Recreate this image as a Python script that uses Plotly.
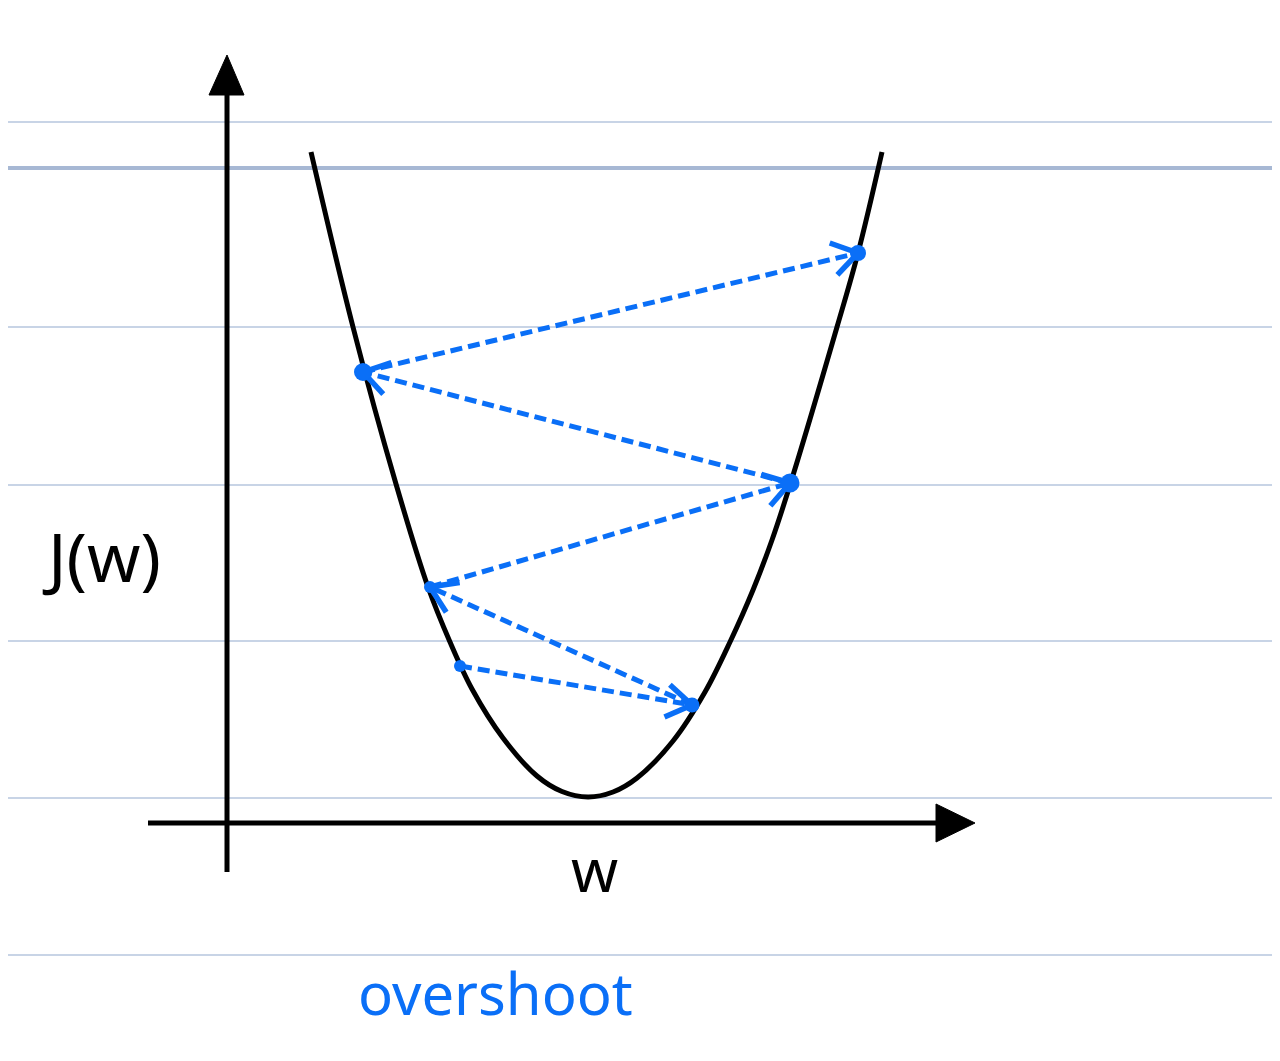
import math
import plotly.graph_objects as go

# ---- data (units: w horizontal, J vertical) ----
curve_w = [-2.77, -2.35, -1.92, -1.60, -1.38, -1.16, -0.85, -0.51, -0.26, 0.00,
           0.25, 0.49, 0.85, 1.17, 1.42, 1.65, 1.84, 2.02, 2.49, 2.70, 2.94]
curve_J = [6.45, 4.70, 3.13, 2.10, 1.55, 1.08, 0.59, 0.21, 0.055, 0.00,
           0.05, 0.19, 0.56, 1.05, 1.55, 2.07, 2.57, 3.12, 4.70, 5.44, 6.45]

step_w = [-1.28, 1.04, -1.58, 2.02, -2.25, 2.70]
step_J = [1.31, 0.92, 2.10, 3.14, 4.25, 5.44]

notebook_lines_J = [6.75, 6.29, 4.70, 3.12, 1.56, -0.01, -1.58]

y_label = "J(w)"
x_label = "w"
caption = "overshoot"

# ---- styling ----
BLUE = "#0a6ff7"
BLACK = "#000000"
GRID = "#b6c6de"
GRID_BOLD = "#a7b8d4"

fig = go.Figure()

shapes = []
for i, j in enumerate(notebook_lines_J):
    shapes.append(dict(type="line", xref="paper", yref="y", x0=0, x1=1, y0=j, y1=j,
                       line=dict(color=GRID_BOLD if i == 1 else GRID, width=4 if i == 1 else 1.6),
                       layer="below"))

# axes with filled arrowheads
ax_x = -3.61
ax_y = -0.26
shapes.append(dict(type="line", x0=ax_x, x1=ax_x, y0=-0.75, y1=7.10,
                   line=dict(color=BLACK, width=5)))
shapes.append(dict(type="path", path=f"M {ax_x-0.18},7.02 L {ax_x},7.42 L {ax_x+0.17},7.02 Z",
                   fillcolor=BLACK, line=dict(color=BLACK, width=1)))
shapes.append(dict(type="line", x0=-4.40, x1=3.55, y0=ax_y, y1=ax_y,
                   line=dict(color=BLACK, width=5)))
shapes.append(dict(type="path", path=f"M 3.48,{ax_y+0.19} L 3.87,{ax_y} L 3.48,{ax_y-0.19} Z",
                   fillcolor=BLACK, line=dict(color=BLACK, width=1)))

# cost curve
fig.add_trace(go.Scatter(x=curve_w, y=curve_J, mode="lines",
                         line=dict(color=BLACK, width=5, shape="spline", smoothing=1.0),
                         hoverinfo="skip", showlegend=False))

# dotted step segments with open arrowheads
seg_x, seg_y = [], []
head_x, head_y = [], []
L = 0.30
ang = math.radians(33)
for i in range(len(step_w) - 1):
    ax0, ay0 = step_w[i], step_J[i]
    bx, by = step_w[i + 1], step_J[i + 1]
    seg_x += [ax0, bx, None]
    seg_y += [ay0, by, None]
    dx, dy = ax0 - bx, ay0 - by
    n = math.hypot(dx, dy)
    ux, uy = dx / n, dy / n
    for s in (1, -1):
        c, sn = math.cos(s * ang), math.sin(s * ang)
        rx, ry = ux * c - uy * sn, ux * sn + uy * c
        head_x += [bx + L * rx, bx, None]
        head_y += [by + L * ry, by, None]

fig.add_trace(go.Scatter(x=seg_x, y=seg_y, mode="lines",
                         line=dict(color=BLUE, width=5, dash="12px,6px"),
                         hoverinfo="skip", showlegend=False))
fig.add_trace(go.Scatter(x=head_x, y=head_y, mode="lines",
                         line=dict(color=BLUE, width=5.5),
                         hoverinfo="skip", showlegend=False))
fig.add_trace(go.Scatter(x=step_w, y=step_J, mode="markers",
                         marker=dict(color=BLUE, size=[12, 15, 12, 19, 18, 16],
                                     line=dict(width=0), opacity=1),
                         hoverinfo="skip", showlegend=False))

annotations = [
    dict(x=-4.87, y=2.42, text=y_label, showarrow=False, xref="x", yref="y",
         font=dict(family="Noto Sans", size=68, color=BLACK)),
    dict(x=0.06, y=-0.72, text=x_label, showarrow=False, xref="x", yref="y",
         font=dict(family="Noto Sans", size=60, color=BLACK)),
    dict(x=-0.93, y=-1.95, text=caption, showarrow=False, xref="x", yref="y",
         font=dict(family="Noto Sans", size=58, color=BLUE)),
]

fig.update_layout(
    width=1280, height=1061,
    margin=dict(l=0, r=0, t=0, b=0),
    paper_bgcolor="white", plot_bgcolor="white",
    xaxis=dict(range=[-5.80, 7.00], visible=False, fixedrange=True),
    yaxis=dict(range=[-2.72, 7.89], visible=False, fixedrange=True),
    shapes=shapes, annotations=annotations,
    showlegend=False,
)

fig.write_html("out.html", config={"displayModeBar": False})
